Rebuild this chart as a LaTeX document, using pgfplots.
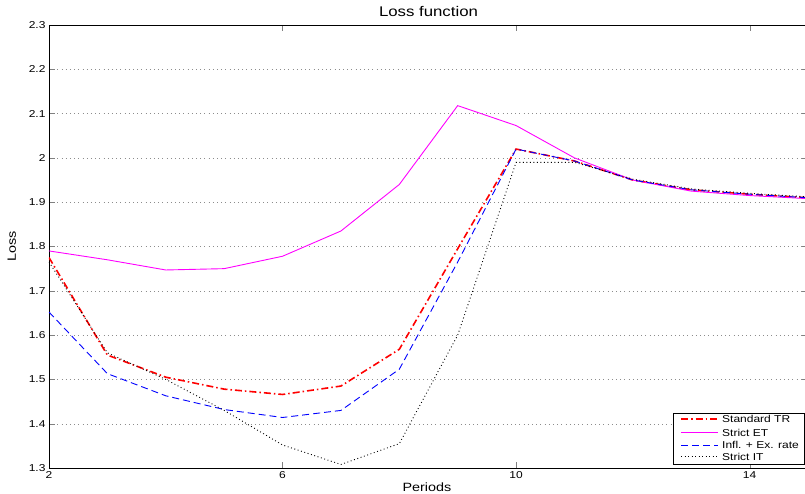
\documentclass[border=0pt]{standalone}
\usepackage{fontspec}
\setmainfont{Liberation Sans}
\usepackage{graphicx}
\usepackage{pgfplots}
\pgfplotsset{compat=1.18}
\definecolor{lred}{RGB}{255,0,0}
\definecolor{lmag}{RGB}{255,0,255}
\definecolor{lblue}{RGB}{0,0,255}
% the reference's text is stretched sideways
\newcommand{\sx}[1]{\scalebox{1.2}[1]{#1}}
\tikzset{
  sTR/.style={draw=lred, line width=1.6pt, dash pattern=on 7pt off 3pt on 1.5pt off 3pt},
  sET/.style={draw=lmag, line width=0.9pt},
  sIE/.style={draw=lblue, line width=0.9pt, dash pattern=on 7pt off 4pt},
  sIT/.style={draw=black, line width=0.9pt, dash pattern=on 0.9pt off 2.6pt},
}

\begin{document}
\begin{tikzpicture}
\begin{axis}[
  name=ax, at={(0,0)}, anchor=south west,
  scale only axis, width=759pt, height=443pt,
  xmin=2, xmax=15, ymin=1.3, ymax=2.3,
  xtick={2,6,10,14}, ytick={1.3,1.4,...,2.3},
  tick align=inside, major tick length=6pt,
  axis line style={line width=0.9pt},
  ymajorgrids, grid style={black!45, dash pattern=on 0.8pt off 3.4pt},
  /pgf/number format/assume math mode=true,
  xticklabel={\sx{\pgfmathprintnumber{\tick}}},
  yticklabel={\sx{\pgfmathprintnumber{\tick}}},
  tick label style={font=\fontsize{10}{12}\selectfont},
  title={\sx{Loss function}}, title style={font=\fontsize{14}{16}\selectfont, at={(axis description cs:0.5,1.03)}, anchor=center, yshift=-6pt},
  xlabel={\sx{Periods}}, ylabel={\sx{Loss}},
  every axis x label/.style={at={(axis description cs:0.498,-0.043)}, anchor=center, font=\fontsize{12}{14}\selectfont},
  every axis y label/.style={at={(axis description cs:-0.049,0.5)}, rotate=90, anchor=center, font=\fontsize{12}{14}\selectfont},
]
\addplot[sTR] coordinates {
  (2,1.775) (3,1.555) (4,1.505) (5,1.478) (6,1.466) (7,1.485) (8,1.568)
  (9,1.795) (10,2.020) (11,1.993) (12,1.950) (13,1.928) (14,1.918) (15,1.910)};
\addplot[sET] coordinates {
  (2,1.790) (3,1.770) (4,1.747) (5,1.750) (6,1.778) (7,1.835) (8,1.940)
  (9,2.118) (10,2.073) (11,2.000) (12,1.950) (13,1.925) (14,1.915) (15,1.908)};
\addplot[sIE] coordinates {
  (2,1.652) (3,1.513) (4,1.463) (5,1.432) (6,1.414) (7,1.430) (8,1.523)
  (9,1.765) (10,2.020) (11,1.993) (12,1.950) (13,1.928) (14,1.918) (15,1.910)};
\addplot[sIT] coordinates {
  (2,1.765) (3,1.560) (4,1.500) (5,1.430) (6,1.352) (7,1.308) (8,1.355)
  (9,1.600) (10,1.990) (11,1.990) (12,1.952) (13,1.930) (14,1.920) (15,1.912)};
\end{axis}
% legend box, bottom right inside the axis
\begin{scope}[shift={(ax.south east)}]
  \draw[fill=white, line width=0.8pt] (-135pt,4pt) rectangle (-4pt,55pt);
  \foreach \st/\yy/\txt in {sTR/49/Standard TR, sET/35.5/Strict ET, sIE/23/Infl. + Ex. rate, sIT/11.3/Strict IT} {
    \draw[\st] (-127pt,\yy pt) -- (-90pt,\yy pt);
    \node[anchor=west, inner sep=0pt, font=\fontsize{10}{12}\selectfont] at (-86pt,\yy pt) {\sx{\txt}};
  }
\end{scope}
\pgfresetboundingbox
\useasboundingbox (-49pt,-25pt) rectangle (756pt,468pt);
\end{tikzpicture}
\end{document}
